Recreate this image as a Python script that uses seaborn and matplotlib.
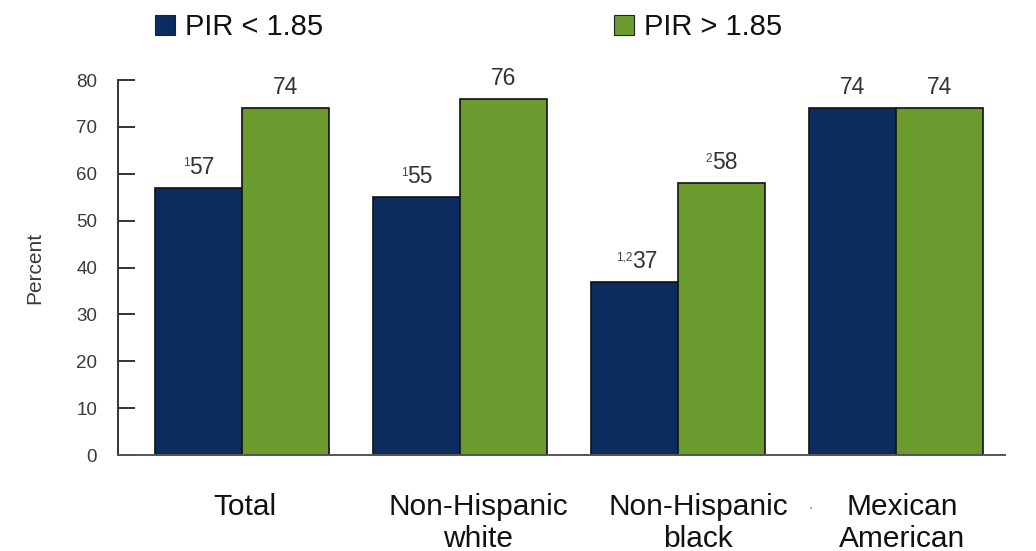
import matplotlib
matplotlib.use("Agg")
import matplotlib.pyplot as plt
from matplotlib.patches import Patch
from matplotlib.transforms import ScaledTranslation
import seaborn as sns
import pandas as pd

# Data
groups = ["Total", "Non-Hispanic\nwhite", "Non-Hispanic\nblack", "Mexican\nAmerican"]
series = ["PIR < 1.85", "PIR > 1.85"]
low_income = [57, 55, 37, 74]
high_income = [74, 76, 58, 74]
low_notes = ["1", "1", "1,2", ""]
high_notes = ["", "", "2", ""]

sns.set_theme(style="white")
plt.rcParams["font.family"] = ["Liberation Sans", "DejaVu Sans"]

df = pd.DataFrame({
    "group": groups * 2,
    "series": [series[0]] * len(groups) + [series[1]] * len(groups),
    "value": low_income + high_income,
})

colors = {series[0]: "#0b2c5e", series[1]: "#6b9b2f"}

fig = plt.figure(figsize=(10.36, 5.51), dpi=100)
ax = fig.add_axes([0.1139, 0.1742, 0.856, 0.6806])

sns.barplot(data=df, x="group", y="value", hue="series", palette=colors,
            width=0.8, edgecolor="#111111", linewidth=1.2, saturation=1,
            ax=ax, legend=False)

ax.set_ylim(0, 80)
ax.set_xlim(-0.57, 3.5)
ax.set_yticks(range(0, 81, 10))
ax.tick_params(axis="y", direction="in", length=12, width=1.4, color="#333333",
               labelsize=13.5, labelcolor="#3a3a3a", pad=15, left=True)
ax.tick_params(axis="x", length=0, labelsize=21.5, labelcolor="#111111", pad=27)

# Category labels sit slightly right of the group centres
label_shift_pt = [2.2, 13.0, 14.4, 4.3]
for lbl, dx in zip(ax.get_xticklabels(), label_shift_pt):
    lbl.set_linespacing(1.2)
    lbl.set_transform(lbl.get_transform() + ScaledTranslation(dx / 72, 0, fig.dpi_scale_trans))

for s in ["top", "right"]:
    ax.spines[s].set_visible(False)
ax.spines["left"].set_color("#333333")
ax.spines["left"].set_linewidth(1.4)
ax.spines["bottom"].set_color("#555555")
ax.spines["bottom"].set_linewidth(1.4)

ax.set_xlabel("")
ax.set_ylabel("Percent", fontsize=15, color="#3a3a3a")
ax.yaxis.set_label_coords(-0.083, 0.5)

# Value labels with small superscript notes hanging to the left of the number
for cont, vals, notes in zip(ax.containers, [low_income, high_income], [low_notes, high_notes]):
    for bar, v, note in zip(cont, vals, notes):
        cx = bar.get_x() + bar.get_width() / 2
        top = bar.get_y() + bar.get_height()
        dx = 2.6 * len(note)
        num = ax.annotate(f"{v}", xy=(cx, top), xytext=(dx, 6.5), textcoords="offset points",
                          ha="center", va="bottom", fontsize=16.5, color="#333333")
        if note:
            ax.annotate(note, xy=(0, 0.93), xycoords=num, ha="right", va="top",
                        fontsize=8.5, color="#444444")

# Legend across the top
handles = [Patch(facecolor=colors[s], edgecolor="#222222", linewidth=0.8) for s in series]
fig.legend(handles, series, loc="upper left", bbox_to_anchor=(0.124, 1.024), ncol=2,
           frameon=False, fontsize=21, handlelength=0.7, handleheight=0.7,
           handletextpad=0.35, columnspacing=9.95, labelcolor="#111111")

fig.text(0.781, 0.076, ".", fontsize=11, color="#888888")

fig.savefig("out.png", dpi=100)
